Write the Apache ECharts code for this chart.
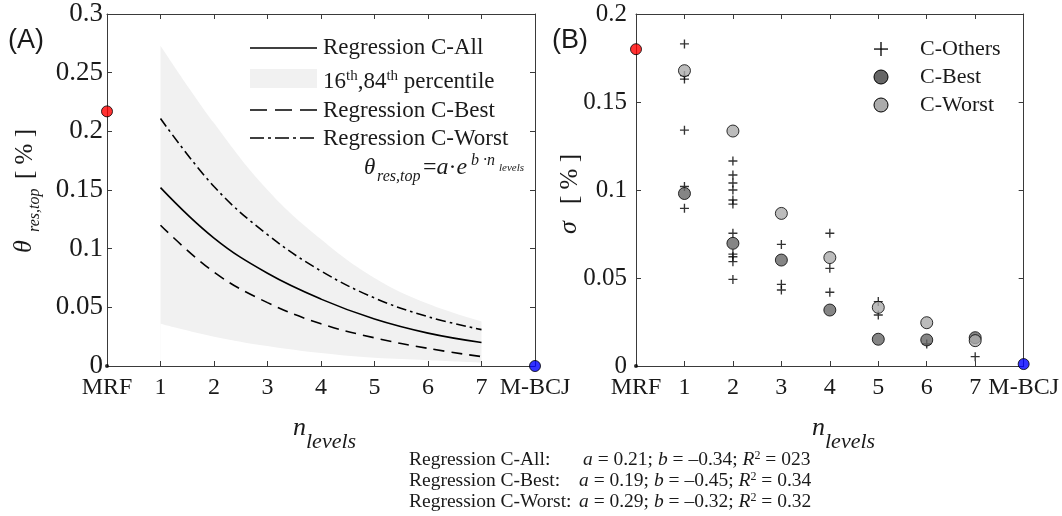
<!DOCTYPE html>
<html>
<head>
<meta charset="utf-8">
<script src="https://cdn.jsdelivr.net/npm/echarts@6/dist/echarts.min.js"></script>
<style>
  html, body { margin: 0; padding: 0; background: #fff; }
  #chart { width: 1062px; height: 516px; }
</style>
</head>
<body>
<div id="chart"></div>
<script>
// ---- Data -------------------------------------------------------------
const tickLabels = ['MRF', '1', '2', '3', '4', '5', '6', '7', 'M-BCJ'];
const nLevels = [1, 2, 3, 4, 5, 6, 7];

// Panel A: regression curves of theta_res,top [%] and the 16th/84th band
const fitAll   = [0.152, 0.109, 0.079, 0.057, 0.040, 0.028, 0.020];
const fitBest  = [0.120, 0.080, 0.054, 0.036, 0.024, 0.015, 0.008];
const fitWorst = [0.211, 0.153, 0.112, 0.081, 0.058, 0.042, 0.031];
const band16   = [0.036, 0.025, 0.017, 0.011, 0.007, 0.005, 0.003];
const band84   = [0.273, 0.207, 0.150, 0.108, 0.075, 0.053, 0.038];
const refA     = [0.217, 0.000];   // MRF, M-BCJ

// Panel B: sigma [%] per number of levels
const othersN     = [1, 1, 1, 1, 1, 1,
                     2, 2, 2, 2, 2, 2, 2, 2, 2, 2, 2,
                     3, 3, 3, 4, 4, 4, 5, 5, 6, 7];
const othersSigma = [0.183, 0.165, 0.163, 0.134, 0.102, 0.0896,
                     0.1165, 0.1085, 0.104, 0.100, 0.0943, 0.092, 0.0754, 0.0636, 0.0621, 0.0593, 0.0492,
                     0.0691, 0.0464, 0.0432, 0.0754, 0.0555, 0.0419, 0.0366, 0.029, 0.0125, 0.0053];
const bestSigma   = [0.098, 0.0697, 0.0602, 0.0318, 0.0152, 0.0148, 0.0161];
const worstSigma  = [0.1678, 0.1335, 0.0867, 0.0616, 0.0333, 0.0246, 0.0144];
const refB        = [0.180, 0.0011];  // MRF, M-BCJ
const refPos      = [0, 8];

// Regression coefficients printed under the panels
const regNames = ['Regression C-All:', 'Regression C-Best:', 'Regression C-Worst:'];
const regA  = ['0.21', '0.19', '0.29'];
const regB  = ['\u20130.34', '\u20130.45', '\u20130.32'];
const regR2 = ['023', '0.34', '0.32'];

// ---- Styling helpers ---------------------------------------------------
const SERIF = '"Liberation Serif", "Times New Roman", serif';
const SANS = '"Liberation Sans", Arial, sans-serif';
const INK = '#1a1a1a';
const AXIS = '#3a3a3a';
const BAND = '#f1f1f1';
const pairs = (xs, ys) => xs.map((x, i) => [x, ys[i]]);
const PLUS = 'path://M4.25,0H5.75V4.25H10V5.75H5.75V10H4.25V5.75H0V4.25H4.25Z';

function xAxisFor(grid, pos) {
  const main = pos === 'bottom';
  return {
    type: 'value', gridIndex: grid, position: pos, min: 0, max: 8, interval: 1, z: 10,
    axisLine: { show: true, onZero: false, lineStyle: { color: AXIS, width: 1 } },
    axisTick: { show: true, inside: true, length: 5, lineStyle: { color: AXIS } },
    axisLabel: main ? {
      show: true, margin: 10, color: INK, fontFamily: SERIF, fontSize: 24,
      formatter: v => tickLabels[Math.round(v)]
    } : { show: false },
    splitLine: { show: false }
  };
}
function yAxisFor(grid, pos, max, margin, size) {
  const main = pos === 'left';
  return {
    type: 'value', gridIndex: grid, position: pos, min: 0, max: max, interval: 0.05, z: 10,
    axisLine: { show: true, onZero: false, lineStyle: { color: AXIS, width: 1 } },
    axisTick: { show: true, inside: true, length: 5, lineStyle: { color: AXIS } },
    axisLabel: main ? { show: true, margin: margin, color: INK, fontFamily: SERIF, fontSize: size } : { show: false },
    splitLine: { show: false }
  };
}
function txt(x, y, text, font, extra) {
  return {
    type: 'text', x: x, y: y, z: 100, silent: true,
    style: Object.assign({ text: text, font: font, fill: INK, align: 'left', verticalAlign: 'middle' }, extra || {})
  };
}
const it = (size) => 'italic ' + size + 'px ' + SERIF;
const rm = (size) => size + 'px ' + SERIF;

function fitLine(name, values, type) {
  return {
    name: name, type: 'line', xAxisIndex: 0, yAxisIndex: 0,
    data: pairs(nLevels, values), smooth: 0.4, symbol: 'none', z: 5,
    lineStyle: { color: '#000', width: 1.6, type: type }
  };
}
function bandEdge(values, fill, z) {
  return {
    type: 'line', xAxisIndex: 0, yAxisIndex: 0, data: pairs(nLevels, values),
    smooth: 0.4, symbol: 'none', z: z, silent: true,
    lineStyle: { width: 0, opacity: 0 }, areaStyle: { color: fill, opacity: 1 }
  };
}
function refDots(xi, yi, values) {
  return [
    { type: 'scatter', xAxisIndex: xi, yAxisIndex: yi, clip: false, z: 10, symbolSize: 11,
      data: [[refPos[0], values[0]]], itemStyle: { color: '#ff0000', borderColor: '#000', borderWidth: 1 } },
    { type: 'scatter', xAxisIndex: xi, yAxisIndex: yi, clip: false, z: 10, symbolSize: 11,
      data: [[refPos[1], values[1]]], itemStyle: { color: '#0000ff', borderColor: '#000', borderWidth: 1 } },
    { type: 'scatter', xAxisIndex: xi, yAxisIndex: yi, clip: false, z: 11, symbolSize: 4,
      data: [[0, 0]], itemStyle: { color: '#000' } }
  ];
}

// ---- Text decorations (legends, axis titles, notes) ----------------------
const graphics = [];
graphics.push(txt(8, 41, '(A)', '27px ' + SANS));
graphics.push(txt(552, 41, '(B)', '27px ' + SANS));

// Legend of panel A
graphics.push({ type: 'line', z: 100, silent: true, shape: { x1: 250, y1: 48, x2: 317, y2: 48 }, style: { stroke: '#000', lineWidth: 1.6 } });
graphics.push({ type: 'rect', z: 100, silent: true, shape: { x: 250, y: 69, width: 67, height: 19 }, style: { fill: BAND } });
graphics.push({ type: 'line', z: 100, silent: true, shape: { x1: 250, y1: 110, x2: 317, y2: 110 }, style: { stroke: '#000', lineWidth: 1.6, lineDash: [17, 8] } });
graphics.push({ type: 'line', z: 100, silent: true, shape: { x1: 250, y1: 138, x2: 317, y2: 138 }, style: { stroke: '#000', lineWidth: 1.6, lineDash: [14, 4, 3, 4] } });
graphics.push(txt(323, 48, 'Regression C-All', rm(23)));
graphics.push(txt(323, 82, '16{s|th},84{s|th} percentile', rm(23), {
  lineHeight: 26,
  rich: { s: { font: rm(15), lineHeight: 14, verticalAlign: 'top', fill: INK } }
}));
graphics.push(txt(323, 111, 'Regression C-Best', rm(23)));
graphics.push(txt(323, 139, 'Regression C-Worst', rm(23)));
// theta_res,top = a·e^(b·n_levels)
graphics.push(txt(364, 168, '\u03b8', it(23)));
graphics.push(txt(377, 177, 'res,top', it(16)));
graphics.push(txt(423, 168, '={i|a}\u00b7{i|e}', rm(24), { rich: { i: { font: it(24), fill: INK } } }));
graphics.push(txt(471, 161, 'b \u00b7n', it(16)));
graphics.push(txt(499, 168, 'levels', it(11)));

// Legend of panel B
graphics.push({ type: 'rect', z: 100, silent: true, shape: { x: 874, y: 48.4, width: 14, height: 1.3 }, style: { fill: '#000' } });
graphics.push({ type: 'rect', z: 100, silent: true, shape: { x: 880.35, y: 42, width: 1.3, height: 14 }, style: { fill: '#000' } });
graphics.push({ type: 'circle', z: 100, silent: true, shape: { cx: 881, cy: 77, r: 7 }, style: { fill: '#666666', stroke: '#000', lineWidth: 1 } });
graphics.push({ type: 'circle', z: 100, silent: true, shape: { cx: 881, cy: 105, r: 7 }, style: { fill: '#ababab', stroke: '#000', lineWidth: 1 } });
graphics.push(txt(920, 49, 'C-Others', rm(22)));
graphics.push(txt(920, 77, 'C-Best', rm(22)));
graphics.push(txt(920, 105, 'C-Worst', rm(22)));

// Rotated y-axis titles
graphics.push({
  type: 'group', x: 28, y: 191, rotation: Math.PI / 2, silent: true,
  children: [
    txt(-62, -4, '\u03b8', it(26)),
    txt(-41, 7, 'res,top', it(16)),
    txt(12, -3, '[ % ]', rm(25))
  ]
});
graphics.push({
  type: 'group', x: 572, y: 195, rotation: Math.PI / 2, silent: true,
  children: [
    txt(-39, -3, '\u03c3', it(26)),
    txt(-9, -2, '[ % ]', rm(25))
  ]
});

// x-axis titles
graphics.push(txt(293, 428, 'n', it(26)));
graphics.push(txt(306, 442, 'levels', it(22)));
graphics.push(txt(812, 428, 'n', it(26)));
graphics.push(txt(825, 442, 'levels', it(22)));

// Regression coefficients
const paramX = [583, 579, 579];
regNames.forEach((name, i) => {
  const y = 460 + i * 21;
  graphics.push(txt(409, y, name, rm(19.5)));
  graphics.push(txt(paramX[i], y,
    '{i|a} = ' + regA[i] + '; {i|b} = ' + regB[i] + '; {i|R}{s|2} = ' + regR2[i], rm(19.5), {
      lineHeight: 20,
      rich: {
        i: { font: it(19.5), fill: INK, lineHeight: 20 },
        s: { font: rm(12), fill: INK, lineHeight: 12, verticalAlign: 'top' }
      }
    }));
});

// ---- Chart -------------------------------------------------------------
const chart = echarts.init(document.getElementById('chart'), null, { renderer: 'canvas' });
chart.setOption({
  animation: false,
  backgroundColor: '#ffffff',
  grid: [
    { left: 107, top: 14, width: 428, height: 352 },
    { left: 636, top: 14, width: 388, height: 352 }
  ],
  xAxis: [xAxisFor(0, 'bottom'), xAxisFor(0, 'top'), xAxisFor(1, 'bottom'), xAxisFor(1, 'top')],
  yAxis: [yAxisFor(0, 'left', 0.3, 4, 27), yAxisFor(0, 'right', 0.3), yAxisFor(1, 'left', 0.2, 9, 25), yAxisFor(1, 'right', 0.2)],
  series: [
    // percentile band: grey fill up to the 84th edge, masked in white below the 16th edge
    bandEdge(band84, BAND, 1),
    bandEdge(band16, '#ffffff', 2),
    fitLine('Regression C-All', fitAll, 'solid'),
    fitLine('Regression C-Best', fitBest, [11, 7]),
    fitLine('Regression C-Worst', fitWorst, [10, 4, 2.5, 4]),
    ...refDots(0, 0, refA),

    { name: 'C-Others', type: 'scatter', xAxisIndex: 2, yAxisIndex: 2, symbol: PLUS, symbolSize: 9, z: 3,
      data: pairs(othersN, othersSigma), itemStyle: { color: '#000' } },
    { name: 'C-Best', type: 'scatter', xAxisIndex: 2, yAxisIndex: 2, symbol: 'circle', symbolSize: 12, z: 4,
      data: pairs(nLevels, bestSigma), itemStyle: { color: '#666666', borderColor: '#000', borderWidth: 1 } },
    { name: 'C-Worst', type: 'scatter', xAxisIndex: 2, yAxisIndex: 2, symbol: 'circle', symbolSize: 12, z: 5,
      data: pairs(nLevels, worstSigma), itemStyle: { color: '#ababab', borderColor: '#000', borderWidth: 1 } },
    ...refDots(2, 2, refB)
  ],
  graphic: graphics
});
</script>
</body>
</html>
